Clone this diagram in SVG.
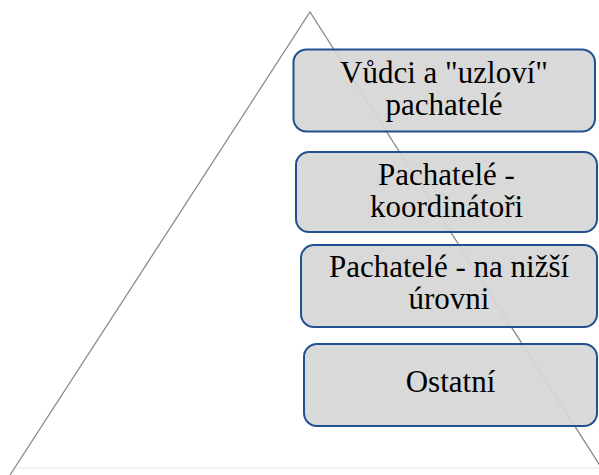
<svg xmlns="http://www.w3.org/2000/svg" width="599" height="475" viewBox="0 0 599 475">
<style>
.box{fill:#d6d6d6;fill-opacity:0.93;stroke:#215091;stroke-width:2}
.lbl{font-family:'Liberation Serif',Tinos,'Noto Serif','DejaVu Serif',Times,'Times New Roman',serif;font-size:31px;fill:#000;text-anchor:middle}
.edge{stroke:#8a8a8a;stroke-width:1.3;fill:none}
</style>
<rect width="599" height="475" fill="#fff"/>
<g id="connectors">
<line x1="16" y1="468" x2="604" y2="468" stroke="#efefef" stroke-width="1.5"/>
<polyline class="edge" points="10,475 310,12 606,475"/>
</g>
<g id="node1">
<rect class="box" x="293.5" y="49.5" width="301.5" height="82" rx="13"/>
<text class="lbl" x="444" y="83">Vůdci a "uzloví"</text>
<text class="lbl" x="444" y="115">pachatelé</text>
</g>
<g id="node2">
<rect class="box" x="296" y="152" width="301" height="80" rx="13"/>
<text class="lbl" x="446.5" y="185">Pachatelé -</text>
<text class="lbl" x="446.5" y="217">koordinátoři</text>
</g>
<g id="node3">
<rect class="box" x="301" y="245" width="296" height="82" rx="13"/>
<text class="lbl" x="449" y="277">Pachatelé - na nižší</text>
<text class="lbl" x="449" y="309">úrovni</text>
</g>
<g id="node4">
<rect class="box" x="304" y="344" width="293" height="82" rx="13"/>
<text class="lbl" x="450.5" y="392">Ostatní</text>
</g>
</svg>
